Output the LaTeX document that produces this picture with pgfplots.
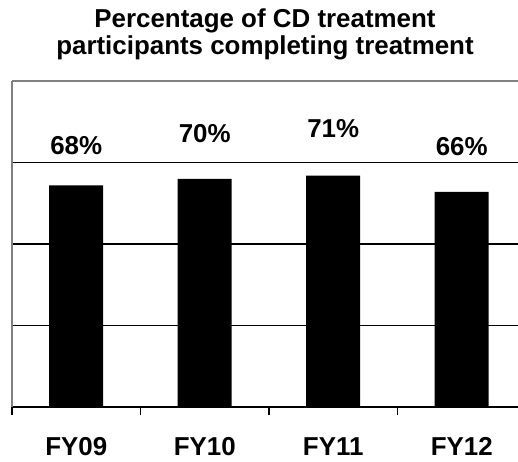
\documentclass[border=0pt]{standalone}
\usepackage{pgfplots}
\pgfplotsset{compat=1.18}
\usepackage{fontspec}
\setmainfont{Liberation Sans}
\pgfplotstableread{
x y off
0 68 40
1 70 45
2 71 47
3 66 45
}\datatab
\begin{document}
\begin{tikzpicture}
\begin{axis}[
  scale only axis, width=506bp, height=326bp,
  xmin=-0.5, xmax=3.438, ymin=0, ymax=100,
  clip=false,
  /pgf/number format/assume math mode=true,
  axis x line=bottom, axis y line=left,
  x axis line style={-, black, line width=1.3bp},
  y axis line style={-, gray, line width=1.3bp},
  xtick={0,1,2,3}, xticklabels={FY09,FY10,FY11,FY12},
  major x tick style={draw=none},
  minor xtick={-0.5,0.5,1.5,2.5},
  minor x tick style={black, line width=1.3bp},
  minor tick length=8bp, tick align=outside,
  ytick={25,50,75}, yticklabels={}, major y tick style={draw=none},
  ymajorgrids, grid style={black, line width=1.3bp},
  xticklabel style={font=\fontsize{26}{30}\selectfont\bfseries, anchor=center, yshift=-35bp},
  ybar, bar width=54bp,
]
\addplot[fill=black, draw=none,
  visualization depends on={\thisrow{off} \as \off},
  nodes near coords={\pgfmathprintnumber[fixed,precision=0,assume math mode=true]{\pgfplotspointmeta}\%},
  nodes near coords style={anchor=center, yshift=\off bp, font=\fontsize{26}{30}\selectfont\bfseries, text=black},
] table[x=x, y=y] {\datatab};
\draw[gray, line width=1.3bp] (rel axis cs:0,1) -- (rel axis cs:1,1);
\node[anchor=base, font=\fontsize{26}{30}\selectfont\bfseries] at (rel axis cs:0.5,1) [yshift=53bp] {Percentage of CD treatment};
\node[anchor=base, font=\fontsize{26}{30}\selectfont\bfseries] at (rel axis cs:0.5,1) [yshift=26bp] {participants completing treatment};
\end{axis}
\pgfresetboundingbox
\useasboundingbox ([xshift=-12bp,yshift=-55bp]current axis.south west) rectangle ([yshift=81bp]current axis.north east);
\end{tikzpicture}
\end{document}
